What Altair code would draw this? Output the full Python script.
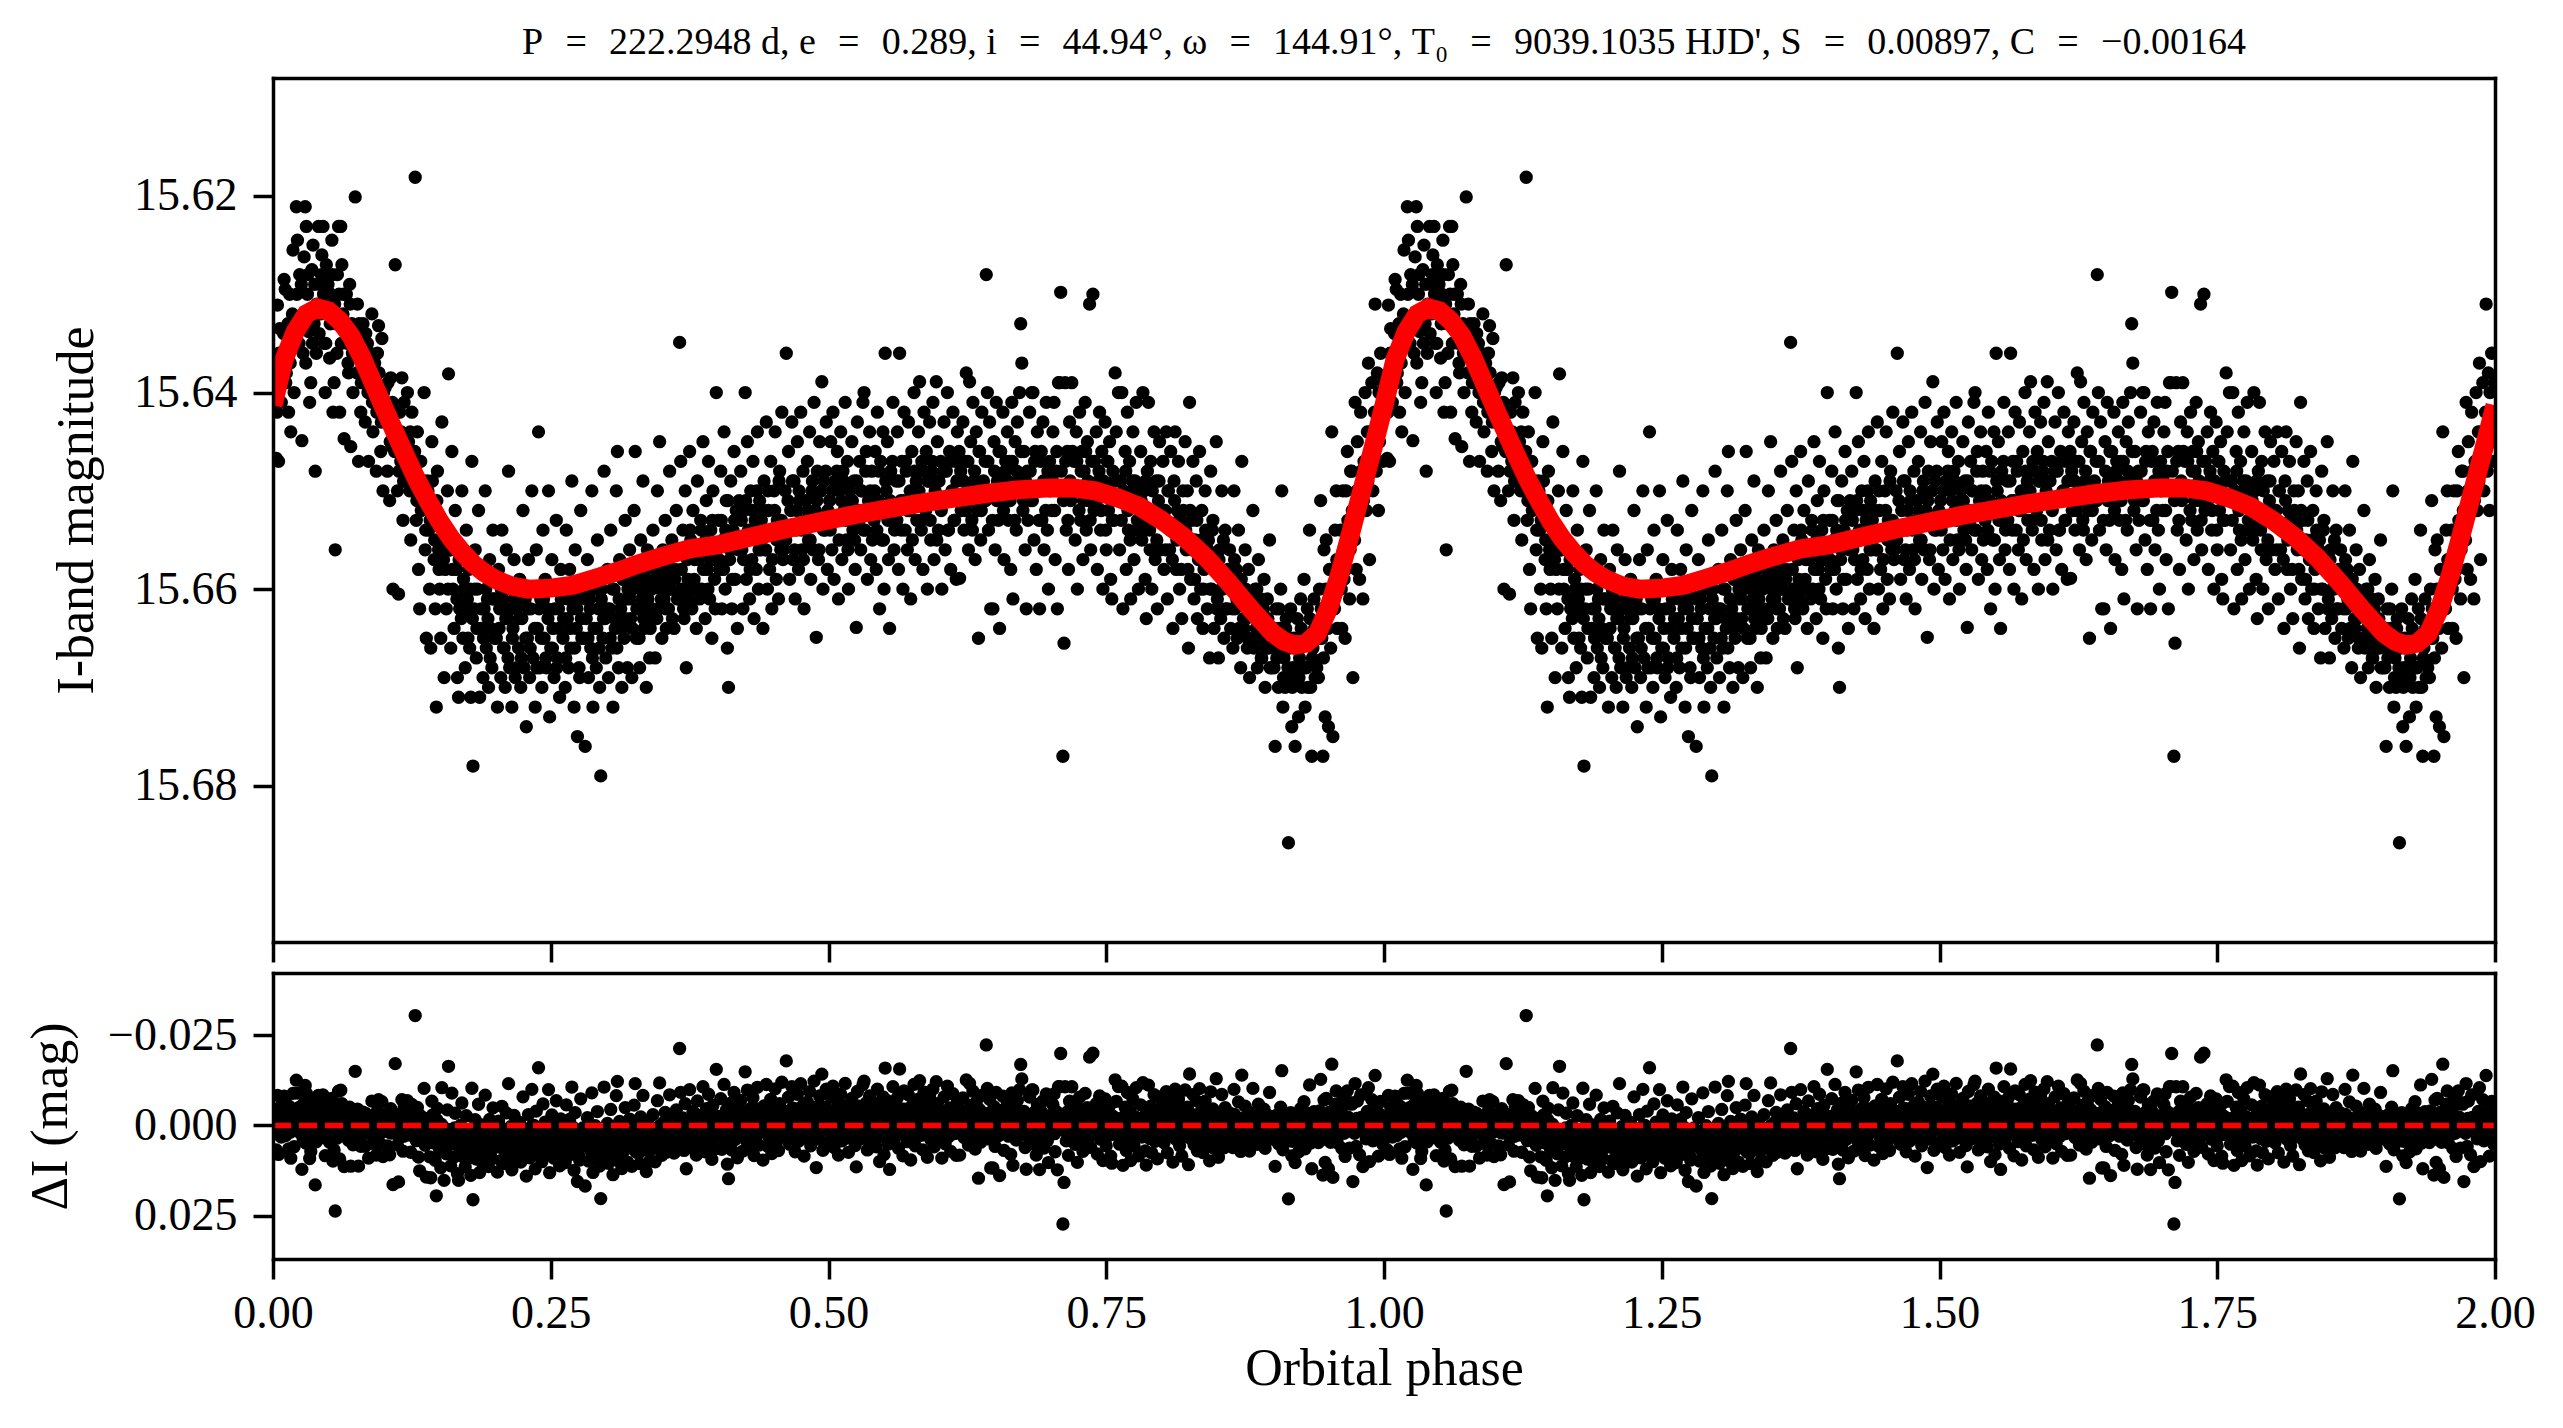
import numpy as np
import pandas as pd
import altair as alt

# ---------------- data ----------------
# red model curve, one orbital cycle (phase, I-band magnitude)
CURVE_PHASE = [0.000, 0.010, 0.020, 0.030, 0.040, 0.050, 0.060, 0.070, 0.080, 0.090,
               0.100, 0.110, 0.120, 0.130, 0.140, 0.150, 0.160, 0.170, 0.180, 0.190,
               0.200, 0.215, 0.230, 0.250, 0.270, 0.290, 0.310, 0.330, 0.350, 0.375,
               0.400, 0.430, 0.460, 0.490, 0.520, 0.550, 0.580, 0.610, 0.640, 0.670,
               0.700, 0.720, 0.740, 0.760, 0.780, 0.800, 0.820, 0.840, 0.860, 0.880,
               0.900, 0.910, 0.920, 0.930, 0.940, 0.950, 0.960, 0.970, 0.980, 0.990, 1.000]
CURVE_MAG = [15.6413, 15.6366, 15.6338, 15.6320, 15.6314, 15.6317, 15.6327, 15.6342, 15.6364, 15.6390,
             15.6416, 15.6441, 15.6466, 15.6490, 15.6511, 15.6531, 15.6548, 15.6562, 15.6574, 15.6583,
             15.6590, 15.6597, 15.6600, 15.6599, 15.6596, 15.6589, 15.6582, 15.6574, 15.6567, 15.6559,
             15.6555, 15.6547, 15.6539, 15.6532, 15.6525, 15.6519, 15.6513, 15.6508, 15.6503, 15.6499,
             15.6497, 15.6497, 15.6500, 15.6507, 15.6516, 15.6530, 15.6547, 15.6568, 15.6593, 15.6620,
             15.6645, 15.6653, 15.6657, 15.6655, 15.6645, 15.6620, 15.6585, 15.6543, 15.6500, 15.6457, 15.6413]

# observations (phase, I mag), phase 0.0 - 0.2
PTS_A = [
    (0.002, 15.6404), (0.003, 15.6467), (0.005, 15.6470), (0.004, 15.6311), (0.006, 15.6335), (0.008, 15.6360),
    (0.010, 15.6285), (0.011, 15.6295), (0.012, 15.6380), (0.014, 15.6420), (0.015, 15.6300), (0.017, 15.6345),
    (0.018, 15.6255), (0.019, 15.6400), (0.016, 15.6440), (0.007, 15.6392),
    (0.021, 15.6211), (0.029, 15.6211), (0.022, 15.6245), (0.024, 15.6280), (0.025, 15.6325), (0.026, 15.6449),
    (0.027, 15.6360), (0.028, 15.6262), (0.030, 15.6231), (0.031, 15.6300), (0.032, 15.6338), (0.034, 15.6390),
    (0.035, 15.6275), (0.036, 15.6250), (0.037, 15.6330), (0.038, 15.6480), (0.039, 15.6360), (0.033, 15.6410),
    (0.041, 15.6231), (0.042, 15.6290), (0.043, 15.6320), (0.044, 15.6260), (0.045, 15.6231), (0.046, 15.6350),
    (0.047, 15.6400), (0.048, 15.6270), (0.049, 15.6310), (0.051, 15.6365), (0.052, 15.6300), (0.053, 15.6245),
    (0.054, 15.6420), (0.055, 15.6390), (0.056, 15.6560), (0.057, 15.6330), (0.058, 15.6280), (0.059, 15.6231),
    (0.060, 15.6420),
    (0.061, 15.6231), (0.062, 15.6270), (0.063, 15.6320), (0.064, 15.6447), (0.066, 15.6300), (0.067, 15.6350),
    (0.068, 15.6380), (0.069, 15.6290), (0.070, 15.6455), (0.071, 15.6330), (0.072, 15.6400), (0.074, 15.6201),
    (0.075, 15.6340), (0.076, 15.6310), (0.077, 15.6470), (0.078, 15.6360), (0.079, 15.6420),
    (0.081, 15.6330), (0.082, 15.6390), (0.083, 15.6430), (0.085, 15.6350), (0.086, 15.6470), (0.087, 15.6400),
    (0.089, 15.6320), (0.090, 15.6440), (0.091, 15.6380), (0.093, 15.6480), (0.094, 15.6360), (0.096, 15.6420),
    (0.097, 15.6460), (0.098, 15.6345), (0.099, 15.6500), (0.095, 15.6332),
    (0.101, 15.6395), (0.102, 15.6430), (0.103, 15.6480), (0.105, 15.6510), (0.106, 15.6385), (0.107, 15.6455),
    (0.108, 15.6600), (0.110, 15.6270), (0.111, 15.6440), (0.112, 15.6500), (0.113, 15.6605), (0.114, 15.6420),
    (0.115, 15.6470), (0.116, 15.6385), (0.117, 15.6530), (0.118, 15.6410), (0.119, 15.6490),
    (0.121, 15.6400), (0.122, 15.6450), (0.123, 15.6500), (0.124, 15.6550), (0.125, 15.6420), (0.127, 15.6480),
    (0.128, 15.6181), (0.129, 15.6530), (0.130, 15.6440), (0.131, 15.6580), (0.132, 15.6620), (0.133, 15.6470),
    (0.135, 15.6510), (0.136, 15.6400), (0.137, 15.6560), (0.138, 15.6650), (0.139, 15.6490), (0.140, 15.6540),
    (0.141, 15.6600), (0.142, 15.6660), (0.143, 15.6450), (0.144, 15.6520), (0.145, 15.6570), (0.146, 15.6620),
    (0.147, 15.6720), (0.148, 15.6480), (0.149, 15.6560), (0.150, 15.6600), (0.151, 15.6650), (0.152, 15.6430),
    (0.153, 15.6540), (0.154, 15.6690), (0.155, 15.6580), (0.156, 15.6620), (0.157, 15.6500), (0.158, 15.6381),
    (0.159, 15.6560), (0.160, 15.6660),
    (0.161, 15.6460), (0.162, 15.6600), (0.163, 15.6640), (0.164, 15.6520), (0.165, 15.6580), (0.166, 15.6690),
    (0.167, 15.6710), (0.168, 15.6620), (0.169, 15.6560), (0.170, 15.6500), (0.171, 15.6650), (0.172, 15.6600),
    (0.173, 15.6680), (0.174, 15.6540), (0.175, 15.6610), (0.176, 15.6580), (0.177, 15.6660), (0.178, 15.6710),
    (0.179, 15.6470),
    (0.180, 15.6780), (0.181, 15.6620), (0.182, 15.6560), (0.183, 15.6670), (0.184, 15.6600), (0.185, 15.6520),
    (0.186, 15.6710), (0.187, 15.6640), (0.188, 15.6580), (0.189, 15.6690), (0.190, 15.6620), (0.191, 15.6500),
    (0.192, 15.6660), (0.193, 15.6610), (0.194, 15.6700), (0.195, 15.6570), (0.196, 15.6640), (0.197, 15.6680),
    (0.198, 15.6540), (0.199, 15.6610),
]

# phase 0.2 - 0.4
PTS_B = [
    (0.201, 15.6650), (0.202, 15.6720), (0.203, 15.6580), (0.204, 15.6620), (0.205, 15.6690), (0.206, 15.6540),
    (0.207, 15.6610), (0.208, 15.6660), (0.209, 15.6700), (0.210, 15.6560), (0.211, 15.6630), (0.212, 15.6480),
    (0.213, 15.6680), (0.214, 15.6600), (0.215, 15.6720), (0.216, 15.6640), (0.217, 15.6570), (0.218, 15.6690),
    (0.219, 15.6620),
    (0.221, 15.6660), (0.222, 15.6590), (0.223, 15.6700), (0.224, 15.6630), (0.225, 15.6520), (0.226, 15.6680),
    (0.227, 15.6610), (0.228, 15.6740), (0.229, 15.6650), (0.230, 15.6570), (0.231, 15.6690), (0.232, 15.6620),
    (0.233, 15.6500), (0.234, 15.6670), (0.235, 15.6600), (0.236, 15.6720), (0.237, 15.6560), (0.238, 15.6640),
    (0.239, 15.6440), (0.240, 15.6680),
    (0.241, 15.6610), (0.242, 15.6700), (0.243, 15.6540), (0.244, 15.6650), (0.245, 15.6590), (0.246, 15.6680),
    (0.247, 15.6620), (0.248, 15.6500), (0.249, 15.6730), (0.250, 15.6660), (0.251, 15.6570), (0.252, 15.6640),
    (0.253, 15.6690), (0.254, 15.6600), (0.255, 15.6530), (0.256, 15.6670), (0.257, 15.6620), (0.258, 15.6710),
    (0.259, 15.6580),
    (0.261, 15.6650), (0.262, 15.6600), (0.263, 15.6700), (0.264, 15.6540), (0.265, 15.6630), (0.266, 15.6680),
    (0.267, 15.6580), (0.268, 15.6660), (0.269, 15.6490), (0.270, 15.6620), (0.271, 15.6720), (0.272, 15.6560),
    (0.273, 15.6640), (0.274, 15.6750), (0.275, 15.6610), (0.276, 15.6690), (0.277, 15.6520), (0.278, 15.6650),
    (0.279, 15.6600),
    (0.281, 15.6760), (0.282, 15.6630), (0.283, 15.6570), (0.284, 15.6690), (0.285, 15.6610), (0.286, 15.6660),
    (0.287, 15.6500), (0.288, 15.6720), (0.289, 15.6640), (0.290, 15.6590), (0.291, 15.6680), (0.292, 15.6550),
    (0.293, 15.6620), (0.294, 15.6700), (0.295, 15.6790), (0.296, 15.6600), (0.297, 15.6650), (0.298, 15.6480),
    (0.299, 15.6630),
    (0.301, 15.6580), (0.302, 15.6690), (0.303, 15.6620), (0.304, 15.6540), (0.305, 15.6660), (0.306, 15.6720),
    (0.307, 15.6600), (0.308, 15.6640), (0.309, 15.6500), (0.310, 15.6460), (0.311, 15.6680), (0.312, 15.6570),
    (0.313, 15.6620), (0.314, 15.6700), (0.315, 15.6590), (0.316, 15.6650), (0.317, 15.6530), (0.318, 15.6610),
    (0.319, 15.6680),
    (0.321, 15.6560), (0.322, 15.6630), (0.323, 15.6690), (0.324, 15.6600), (0.325, 15.6520), (0.326, 15.6460),
    (0.327, 15.6650), (0.328, 15.6580), (0.329, 15.6620), (0.330, 15.6680), (0.331, 15.6550), (0.332, 15.6610),
    (0.333, 15.6490), (0.334, 15.6640), (0.335, 15.6590), (0.336, 15.6700), (0.337, 15.6560), (0.338, 15.6620),
    (0.339, 15.6670),
    (0.341, 15.6600), (0.342, 15.6540), (0.343, 15.6630), (0.344, 15.6670), (0.345, 15.6580), (0.346, 15.6500),
    (0.347, 15.6620), (0.348, 15.6450), (0.349, 15.6600), (0.350, 15.6650), (0.351, 15.6560), (0.352, 15.6610),
    (0.353, 15.6530), (0.354, 15.6640), (0.355, 15.6580), (0.356, 15.6620), (0.357, 15.6480), (0.358, 15.6600),
    (0.359, 15.6550),
    (0.361, 15.6640), (0.362, 15.6580), (0.363, 15.6520), (0.364, 15.6610), (0.365, 15.6560), (0.366, 15.6349),
    (0.367, 15.6470), (0.368, 15.6600), (0.369, 15.6540), (0.370, 15.6630), (0.371, 15.6500), (0.372, 15.6680),
    (0.373, 15.6570), (0.374, 15.6610), (0.375, 15.6460), (0.376, 15.6550), (0.377, 15.6620), (0.378, 15.6520),
    (0.379, 15.6590),
    (0.381, 15.6640), (0.382, 15.6490), (0.383, 15.6570), (0.384, 15.6610), (0.385, 15.6530), (0.386, 15.6600),
    (0.387, 15.6450), (0.388, 15.6560), (0.389, 15.6630), (0.390, 15.6510), (0.391, 15.6580), (0.392, 15.6470),
    (0.393, 15.6610), (0.394, 15.6540), (0.395, 15.6650), (0.396, 15.6500), (0.397, 15.6570), (0.398, 15.6620),
    (0.399, 15.6400),
]

# phase 0.4 - 0.6
PTS_C = [
    (0.401, 15.6530), (0.402, 15.6580), (0.403, 15.6480), (0.404, 15.6620), (0.405, 15.6550), (0.406, 15.6440),
    (0.407, 15.6600), (0.408, 15.6510), (0.409, 15.6660), (0.410, 15.6700), (0.411, 15.6570), (0.412, 15.6490),
    (0.413, 15.6620), (0.414, 15.6540), (0.415, 15.6460), (0.416, 15.6590), (0.417, 15.6520), (0.418, 15.6640),
    (0.419, 15.6560),
    (0.421, 15.6480), (0.422, 15.6560), (0.423, 15.6620), (0.424, 15.6520), (0.425, 15.6400), (0.426, 15.6590),
    (0.427, 15.6450), (0.428, 15.6540), (0.429, 15.6610), (0.430, 15.6500), (0.431, 15.6570), (0.432, 15.6470),
    (0.433, 15.6630), (0.434, 15.6530), (0.435, 15.6580), (0.436, 15.6440), (0.437, 15.6600), (0.438, 15.6510),
    (0.439, 15.6560),
    (0.441, 15.6640), (0.442, 15.6490), (0.443, 15.6560), (0.444, 15.6430), (0.445, 15.6600), (0.446, 15.6520),
    (0.447, 15.6580), (0.448, 15.6470), (0.449, 15.6620), (0.450, 15.6540), (0.451, 15.6500), (0.452, 15.6440),
    (0.453, 15.6590), (0.454, 15.6530), (0.455, 15.6610), (0.456, 15.6480), (0.457, 15.6560), (0.458, 15.6420),
    (0.459, 15.6570),
    (0.461, 15.6500), (0.462, 15.6360), (0.463, 15.6540), (0.464, 15.6460), (0.465, 15.6590), (0.466, 15.6520),
    (0.467, 15.6430), (0.468, 15.6570), (0.469, 15.6490), (0.470, 15.6610), (0.471, 15.6540), (0.472, 15.6450),
    (0.473, 15.6580), (0.474, 15.6510), (0.475, 15.6420), (0.476, 15.6560), (0.477, 15.6480), (0.478, 15.6620),
    (0.479, 15.6530),
    (0.481, 15.6470), (0.482, 15.6550), (0.483, 15.6440), (0.484, 15.6590), (0.485, 15.6500), (0.486, 15.6560),
    (0.487, 15.6410), (0.488, 15.6520), (0.489, 15.6649), (0.490, 15.6480), (0.491, 15.6570), (0.492, 15.6450),
    (0.493, 15.6530), (0.494, 15.6389), (0.495, 15.6600), (0.496, 15.6490), (0.497, 15.6540), (0.498, 15.6430),
    (0.499, 15.6580),
    (0.501, 15.6510), (0.502, 15.6450), (0.503, 15.6560), (0.504, 15.6420), (0.505, 15.6590), (0.506, 15.6490),
    (0.507, 15.6530), (0.508, 15.6460), (0.509, 15.6610), (0.510, 15.6500), (0.511, 15.6440), (0.512, 15.6570),
    (0.513, 15.6480), (0.514, 15.6520), (0.515, 15.6410), (0.516, 15.6550), (0.517, 15.6470), (0.518, 15.6600),
    (0.519, 15.6510),
    (0.521, 15.6450), (0.522, 15.6540), (0.523, 15.6490), (0.524, 15.6580), (0.525, 15.6639), (0.526, 15.6430),
    (0.527, 15.6520), (0.528, 15.6470), (0.529, 15.6560), (0.530, 15.6500), (0.531, 15.6410), (0.532, 15.6400),
    (0.533, 15.6540), (0.534, 15.6460), (0.535, 15.6590), (0.536, 15.6510), (0.537, 15.6440), (0.538, 15.6570),
    (0.539, 15.6480),
    (0.541, 15.6530), (0.542, 15.6460), (0.543, 15.6580), (0.544, 15.6420), (0.545, 15.6510), (0.546, 15.6620),
    (0.547, 15.6470), (0.548, 15.6550), (0.549, 15.6440), (0.550, 15.6600), (0.551, 15.6360), (0.552, 15.6500),
    (0.553, 15.6450), (0.554, 15.6570), (0.555, 15.6640), (0.556, 15.6480), (0.557, 15.6530), (0.558, 15.6410),
    (0.559, 15.6560),
    (0.561, 15.6490), (0.562, 15.6440), (0.563, 15.6580), (0.564, 15.6360), (0.565, 15.6510), (0.566, 15.6470),
    (0.567, 15.6600), (0.568, 15.6420), (0.569, 15.6540), (0.570, 15.6480), (0.571, 15.6560), (0.572, 15.6430),
    (0.573, 15.6520), (0.574, 15.6610), (0.575, 15.6460), (0.576, 15.6500), (0.577, 15.6400), (0.578, 15.6570),
    (0.579, 15.6490),
    (0.581, 15.6440), (0.582, 15.6389), (0.583, 15.6530), (0.584, 15.6470), (0.585, 15.6580), (0.586, 15.6420),
    (0.587, 15.6510), (0.588, 15.6460), (0.589, 15.6600), (0.590, 15.6490), (0.591, 15.6430), (0.592, 15.6550),
    (0.593, 15.6480), (0.594, 15.6410), (0.595, 15.6570), (0.596, 15.6500), (0.597, 15.6389), (0.598, 15.6450),
    (0.599, 15.6540),
]

# phase 0.6 - 0.8
PTS_D = [
    (0.601, 15.6470), (0.602, 15.6600), (0.603, 15.6510), (0.604, 15.6430), (0.605, 15.6560), (0.606, 15.6480),
    (0.607, 15.6400), (0.608, 15.6540), (0.609, 15.6460), (0.610, 15.6580), (0.611, 15.6500), (0.612, 15.6420),
    (0.613, 15.6530), (0.614, 15.6470), (0.615, 15.6590), (0.616, 15.6440), (0.617, 15.6510), (0.618, 15.6589),
    (0.619, 15.6480),
    (0.621, 15.6430), (0.622, 15.6540), (0.623, 15.6470), (0.624, 15.6380), (0.625, 15.6500), (0.626, 15.6560),
    (0.627, 15.6389), (0.628, 15.6450), (0.629, 15.6530), (0.630, 15.6410), (0.631, 15.6490), (0.632, 15.6570),
    (0.633, 15.6440), (0.634, 15.6520), (0.635, 15.6650), (0.636, 15.6460), (0.637, 15.6550), (0.638, 15.6420),
    (0.639, 15.6500),
    (0.641, 15.6470), (0.642, 15.6280), (0.643, 15.6400), (0.644, 15.6540), (0.645, 15.6430), (0.646, 15.6620),
    (0.647, 15.6500), (0.648, 15.6620), (0.649, 15.6450), (0.650, 15.6560), (0.651, 15.6410), (0.652, 15.6490),
    (0.653, 15.6530), (0.654, 15.6640), (0.655, 15.6460), (0.656, 15.6510), (0.657, 15.6420), (0.658, 15.6570),
    (0.659, 15.6480),
    (0.661, 15.6440), (0.662, 15.6530), (0.663, 15.6470), (0.664, 15.6580), (0.665, 15.6410), (0.666, 15.6610),
    (0.667, 15.6500), (0.668, 15.6450), (0.669, 15.6540), (0.670, 15.6430), (0.671, 15.6490), (0.672, 15.6400),
    (0.673, 15.6330), (0.674, 15.6370), (0.675, 15.6520), (0.676, 15.6460), (0.677, 15.6560), (0.678, 15.6620),
    (0.679, 15.6480),
    (0.681, 15.6420), (0.682, 15.6510), (0.683, 15.6400), (0.684, 15.6400), (0.685, 15.6550), (0.686, 15.6460),
    (0.687, 15.6580), (0.688, 15.6440), (0.689, 15.6500), (0.690, 15.6620), (0.691, 15.6470), (0.692, 15.6530),
    (0.693, 15.6430), (0.694, 15.6560), (0.695, 15.6490), (0.696, 15.6410), (0.697, 15.6540), (0.698, 15.6600),
    (0.699, 15.6470),
    (0.701, 15.6520), (0.702, 15.6440), (0.703, 15.6410), (0.704, 15.6570), (0.705, 15.6480), (0.706, 15.6620),
    (0.707, 15.6390), (0.708, 15.6390), (0.709, 15.6298), (0.710, 15.6500), (0.711, 15.6770), (0.712, 15.6655),
    (0.713, 15.6390), (0.714, 15.6540), (0.715, 15.6460), (0.716, 15.6580), (0.717, 15.6430), (0.718, 15.6510),
    (0.719, 15.6390),
    (0.721, 15.6470), (0.722, 15.6550), (0.723, 15.6440), (0.724, 15.6600), (0.725, 15.6500), (0.726, 15.6420),
    (0.727, 15.6530), (0.728, 15.6460), (0.729, 15.6570), (0.730, 15.6480), (0.731, 15.6410), (0.732, 15.6540),
    (0.733, 15.6450), (0.734, 15.6510), (0.735, 15.6310), (0.736, 15.6560), (0.737, 15.6470), (0.738, 15.6300),
    (0.739, 15.6520),
    (0.741, 15.6440), (0.742, 15.6580), (0.743, 15.6490), (0.744, 15.6420), (0.745, 15.6540), (0.746, 15.6460),
    (0.747, 15.6600), (0.748, 15.6500), (0.749, 15.6430), (0.750, 15.6560), (0.751, 15.6470), (0.752, 15.6520),
    (0.753, 15.6450), (0.754, 15.6590), (0.755, 15.6610), (0.756, 15.6480), (0.757, 15.6530), (0.758, 15.6380),
    (0.759, 15.6440),
    (0.761, 15.6400), (0.762, 15.6560), (0.763, 15.6490), (0.764, 15.6400), (0.765, 15.6620), (0.766, 15.6510),
    (0.767, 15.6460), (0.768, 15.6580), (0.769, 15.6420), (0.770, 15.6540), (0.771, 15.6470), (0.772, 15.6610),
    (0.773, 15.6500), (0.774, 15.6440), (0.775, 15.6570), (0.776, 15.6490), (0.777, 15.6410), (0.778, 15.6530),
    (0.779, 15.6600),
    (0.781, 15.6460), (0.782, 15.6550), (0.783, 15.6400), (0.784, 15.6500), (0.785, 15.6590), (0.786, 15.6630),
    (0.787, 15.6480), (0.788, 15.6410), (0.789, 15.6540), (0.790, 15.6470), (0.791, 15.6600), (0.792, 15.6520),
    (0.793, 15.6440), (0.794, 15.6570), (0.795, 15.6490), (0.796, 15.6620), (0.797, 15.6510), (0.798, 15.6450),
    (0.799, 15.6560),
]

# phase 0.8 - 1.0
PTS_E = [
    (0.801, 15.6470), (0.802, 15.6580), (0.803, 15.6520), (0.804, 15.6440), (0.805, 15.6610), (0.806, 15.6500),
    (0.807, 15.6560), (0.808, 15.6460), (0.809, 15.6540), (0.810, 15.6640), (0.811, 15.6490), (0.812, 15.6440),
    (0.813, 15.6580), (0.814, 15.6520), (0.815, 15.6470), (0.816, 15.6600), (0.817, 15.6530), (0.818, 15.6630),
    (0.819, 15.6500),
    (0.821, 15.6450), (0.822, 15.6560), (0.823, 15.6500), (0.824, 15.6660), (0.825, 15.6410), (0.826, 15.6590),
    (0.827, 15.6530), (0.828, 15.6470), (0.829, 15.6610), (0.830, 15.6550), (0.831, 15.6490), (0.832, 15.6630),
    (0.833, 15.6570), (0.834, 15.6460), (0.835, 15.6600), (0.836, 15.6520), (0.837, 15.6640), (0.838, 15.6580),
    (0.839, 15.6500),
    (0.841, 15.6620), (0.842, 15.6550), (0.843, 15.6670), (0.844, 15.6480), (0.845, 15.6600), (0.846, 15.6530),
    (0.847, 15.6640), (0.848, 15.6580), (0.849, 15.6450), (0.850, 15.6610), (0.851, 15.6670), (0.852, 15.6560),
    (0.853, 15.6630), (0.854, 15.6500), (0.855, 15.6600), (0.856, 15.6650), (0.857, 15.6540), (0.858, 15.6590),
    (0.859, 15.6620),
    (0.861, 15.6560), (0.862, 15.6640), (0.863, 15.6590), (0.864, 15.6660), (0.865, 15.6500), (0.866, 15.6620),
    (0.867, 15.6580), (0.868, 15.6650), (0.869, 15.6540), (0.870, 15.6610), (0.871, 15.6680), (0.872, 15.6470),
    (0.873, 15.6600), (0.874, 15.6640), (0.875, 15.6560), (0.876, 15.6630), (0.877, 15.6660), (0.878, 15.6580),
    (0.879, 15.6690),
    (0.881, 15.6620), (0.882, 15.6520), (0.883, 15.6660), (0.884, 15.6600), (0.885, 15.6640), (0.886, 15.6680),
    (0.887, 15.6570), (0.888, 15.6650), (0.889, 15.6610), (0.890, 15.6670), (0.891, 15.6630), (0.892, 15.6590),
    (0.893, 15.6700), (0.894, 15.6650), (0.895, 15.6610), (0.896, 15.6660), (0.897, 15.6550), (0.898, 15.6640),
    (0.899, 15.6680),
    (0.901, 15.6680), (0.902, 15.6760), (0.903, 15.6620), (0.904, 15.6660), (0.905, 15.6700), (0.906, 15.6640),
    (0.907, 15.6600), (0.908, 15.6500), (0.909, 15.6720), (0.910, 15.6670), (0.911, 15.6700), (0.912, 15.6630),
    (0.913, 15.6690), (0.914, 15.6858), (0.915, 15.6660), (0.916, 15.6620), (0.917, 15.6740), (0.918, 15.6680),
    (0.919, 15.6650),
    (0.920, 15.6760), (0.921, 15.6690), (0.922, 15.6630), (0.923, 15.6730), (0.924, 15.6670), (0.925, 15.6610),
    (0.926, 15.6700), (0.927, 15.6650), (0.928, 15.6590), (0.929, 15.6720), (0.930, 15.6680), (0.931, 15.6620),
    (0.933, 15.6540), (0.934, 15.6700), (0.935, 15.6770), (0.936, 15.6660), (0.937, 15.6610), (0.938, 15.6690),
    (0.939, 15.6640),
    (0.941, 15.6690), (0.942, 15.6600), (0.943, 15.6510), (0.944, 15.6650), (0.945, 15.6770), (0.946, 15.6560),
    (0.947, 15.6730), (0.948, 15.6550), (0.949, 15.6620), (0.950, 15.6740), (0.951, 15.6580), (0.952, 15.6660),
    (0.953, 15.6440), (0.954, 15.6750), (0.955, 15.6610), (0.956, 15.6540), (0.957, 15.6500), (0.958, 15.6640),
    (0.959, 15.6590),
    (0.961, 15.6540), (0.962, 15.6640), (0.963, 15.6500), (0.964, 15.6590), (0.965, 15.6650), (0.966, 15.6500),
    (0.967, 15.6460), (0.968, 15.6560), (0.969, 15.6610), (0.970, 15.6480), (0.971, 15.6480), (0.972, 15.6690),
    (0.973, 15.6530), (0.974, 15.6410), (0.975, 15.6580), (0.976, 15.6450), (0.977, 15.6520), (0.978, 15.6590),
    (0.979, 15.6420),
    (0.981, 15.6610), (0.982, 15.6470), (0.983, 15.6400), (0.984, 15.6520), (0.985, 15.6440), (0.986, 15.6370),
    (0.987, 15.6570), (0.988, 15.6460), (0.989, 15.6390), (0.990, 15.6500), (0.991, 15.6440), (0.992, 15.6310),
    (0.993, 15.6480), (0.994, 15.6380), (0.995, 15.6520), (0.996, 15.6450), (0.997, 15.6360), (0.998, 15.6420),
    (0.999, 15.6470),
]

# dense core of the cloud, close to the model, phase 0.0 - 0.5
PTS_F = [
    (0.0015, 15.6390), (0.0035, 15.6420), (0.0055, 15.6360), (0.0075, 15.6410), (0.0095, 15.6340),
    (0.0115, 15.6390), (0.0135, 15.6330), (0.0155, 15.6370), (0.0175, 15.6320), (0.0195, 15.6350),
    (0.0215, 15.6300), (0.0235, 15.6350), (0.0255, 15.6290), (0.0275, 15.6330), (0.0295, 15.6370),
    (0.0315, 15.6280), (0.0335, 15.6320), (0.0355, 15.6350), (0.0375, 15.6290), (0.0395, 15.6310),
    (0.0415, 15.6340), (0.0435, 15.6280), (0.0455, 15.6300), (0.0475, 15.6350), (0.0495, 15.6290),
    (0.0515, 15.6330), (0.0535, 15.6280), (0.0555, 15.6310), (0.0575, 15.6360), (0.0595, 15.6300),
    (0.0615, 15.6350), (0.0635, 15.6300), (0.0655, 15.6330), (0.0675, 15.6370), (0.0695, 15.6310),
    (0.0715, 15.6360), (0.0735, 15.6340), (0.0755, 15.6380), (0.0775, 15.6330), (0.0795, 15.6390),
    (0.0815, 15.6370), (0.0835, 15.6340), (0.0855, 15.6400), (0.0875, 15.6360), (0.0895, 15.6410),
    (0.0915, 15.6370), (0.0935, 15.6420), (0.0955, 15.6380), (0.0975, 15.6430), (0.0995, 15.6400),
    (0.1015, 15.6420), (0.1035, 15.6390), (0.1055, 15.6450), (0.1075, 15.6410), (0.1095, 15.6460),
    (0.1115, 15.6420), (0.1135, 15.6480), (0.1155, 15.6440), (0.1175, 15.6490), (0.1195, 15.6460),
    (0.1215, 15.6480), (0.1235, 15.6440), (0.1255, 15.6500), (0.1275, 15.6460), (0.1295, 15.6510),
    (0.1315, 15.6470), (0.1335, 15.6520), (0.1355, 15.6490), (0.1375, 15.6540), (0.1395, 15.6500),
    (0.1415, 15.6530), (0.1435, 15.6490), (0.1455, 15.6550), (0.1475, 15.6510), (0.1495, 15.6580),
    (0.1515, 15.6530), (0.1535, 15.6570), (0.1555, 15.6550), (0.1575, 15.6600), (0.1595, 15.6560),
    (0.1615, 15.6580), (0.1635, 15.6560), (0.1655, 15.6610), (0.1675, 15.6570), (0.1695, 15.6630),
    (0.1715, 15.6590), (0.1735, 15.6620), (0.1755, 15.6650), (0.1775, 15.6600), (0.1795, 15.6630),
    (0.1815, 15.6600), (0.1835, 15.6640), (0.1855, 15.6580), (0.1875, 15.6620), (0.1895, 15.6650),
    (0.1915, 15.6600), (0.1935, 15.6630), (0.1955, 15.6670), (0.1975, 15.6610), (0.1995, 15.6650),
    (0.2015, 15.6610), (0.2035, 15.6640), (0.2055, 15.6600), (0.2075, 15.6660), (0.2095, 15.6630),
    (0.2115, 15.6670), (0.2135, 15.6620), (0.2155, 15.6650), (0.2175, 15.6610), (0.2195, 15.6680),
    (0.2215, 15.6630), (0.2235, 15.6670), (0.2255, 15.6610), (0.2275, 15.6650), (0.2295, 15.6620),
    (0.2315, 15.6660), (0.2335, 15.6600), (0.2355, 15.6640), (0.2375, 15.6680), (0.2395, 15.6620),
    (0.2415, 15.6650), (0.2435, 15.6610), (0.2455, 15.6670), (0.2475, 15.6630), (0.2495, 15.6600),
    (0.2515, 15.6660), (0.2535, 15.6620), (0.2555, 15.6680), (0.2575, 15.6640), (0.2595, 15.6610),
    (0.2615, 15.6630), (0.2635, 15.6670), (0.2655, 15.6610), (0.2675, 15.6640), (0.2695, 15.6600),
    (0.2715, 15.6660), (0.2735, 15.6620), (0.2755, 15.6680), (0.2775, 15.6630), (0.2795, 15.6650),
    (0.2815, 15.6610), (0.2835, 15.6650), (0.2855, 15.6620), (0.2875, 15.6670), (0.2895, 15.6600),
    (0.2915, 15.6640), (0.2935, 15.6660), (0.2955, 15.6610), (0.2975, 15.6630), (0.2995, 15.6670),
    (0.3015, 15.6620), (0.3035, 15.6650), (0.3055, 15.6600), (0.3075, 15.6630), (0.3095, 15.6660),
    (0.3115, 15.6610), (0.3135, 15.6640), (0.3155, 15.6590), (0.3175, 15.6630), (0.3195, 15.6600),
    (0.3215, 15.6610), (0.3235, 15.6640), (0.3255, 15.6590), (0.3275, 15.6620), (0.3295, 15.6650),
    (0.3315, 15.6600), (0.3335, 15.6630), (0.3355, 15.6580), (0.3375, 15.6610), (0.3395, 15.6640),
    (0.3415, 15.6620), (0.3435, 15.6590), (0.3455, 15.6630), (0.3475, 15.6570), (0.3495, 15.6610),
    (0.3515, 15.6590), (0.3535, 15.6620), (0.3555, 15.6570), (0.3575, 15.6600), (0.3595, 15.6630),
    (0.3615, 15.6590), (0.3635, 15.6560), (0.3655, 15.6610), (0.3675, 15.6580), (0.3695, 15.6620),
    (0.3715, 15.6560), (0.3735, 15.6590), (0.3755, 15.6540), (0.3775, 15.6600), (0.3795, 15.6570),
    (0.3815, 15.6560), (0.3835, 15.6600), (0.3855, 15.6540), (0.3875, 15.6580), (0.3895, 15.6550),
    (0.3915, 15.6600), (0.3935, 15.6570), (0.3955, 15.6530), (0.3975, 15.6590), (0.3995, 15.6560),
    (0.4015, 15.6570), (0.4035, 15.6530), (0.4055, 15.6580), (0.4075, 15.6540), (0.4095, 15.6510),
    (0.4115, 15.6560), (0.4135, 15.6590), (0.4155, 15.6530), (0.4175, 15.6550), (0.4195, 15.6510),
    (0.4215, 15.6530), (0.4235, 15.6570), (0.4255, 15.6510), (0.4275, 15.6550), (0.4295, 15.6580),
    (0.4315, 15.6520), (0.4335, 15.6540), (0.4355, 15.6500), (0.4375, 15.6560), (0.4395, 15.6530),
    (0.4415, 15.6520), (0.4435, 15.6560), (0.4455, 15.6500), (0.4475, 15.6540), (0.4495, 15.6570),
    (0.4515, 15.6520), (0.4535, 15.6550), (0.4555, 15.6490), (0.4575, 15.6530), (0.4595, 15.6560),
    (0.4615, 15.6550), (0.4635, 15.6510), (0.4655, 15.6540), (0.4675, 15.6490), (0.4695, 15.6560),
    (0.4715, 15.6520), (0.4735, 15.6500), (0.4755, 15.6540), (0.4775, 15.6570), (0.4795, 15.6510),
    (0.4815, 15.6520), (0.4835, 15.6550), (0.4855, 15.6490), (0.4875, 15.6530), (0.4895, 15.6510),
    (0.4915, 15.6560), (0.4935, 15.6500), (0.4955, 15.6540), (0.4975, 15.6480), (0.4995, 15.6520),
]

# dense core of the cloud, close to the model, phase 0.5 - 1.0
PTS_G = [
    (0.5015, 15.6540), (0.5035, 15.6500), (0.5055, 15.6530), (0.5075, 15.6480), (0.5095, 15.6550),
    (0.5115, 15.6510), (0.5135, 15.6490), (0.5155, 15.6530), (0.5175, 15.6560), (0.5195, 15.6500),
    (0.5215, 15.6510), (0.5235, 15.6550), (0.5255, 15.6490), (0.5275, 15.6530), (0.5295, 15.6500),
    (0.5315, 15.6540), (0.5335, 15.6480), (0.5355, 15.6520), (0.5375, 15.6500), (0.5395, 15.6550),
    (0.5415, 15.6500), (0.5435, 15.6540), (0.5455, 15.6480), (0.5475, 15.6520), (0.5495, 15.6550),
    (0.5515, 15.6490), (0.5535, 15.6530), (0.5555, 15.6510), (0.5575, 15.6470), (0.5595, 15.6540),
    (0.5615, 15.6530), (0.5635, 15.6490), (0.5655, 15.6540), (0.5675, 15.6510), (0.5695, 15.6470),
    (0.5715, 15.6520), (0.5735, 15.6500), (0.5755, 15.6550), (0.5775, 15.6480), (0.5795, 15.6530),
    (0.5815, 15.6500), (0.5835, 15.6540), (0.5855, 15.6480), (0.5875, 15.6520), (0.5895, 15.6490),
    (0.5915, 15.6530), (0.5935, 15.6470), (0.5955, 15.6510), (0.5975, 15.6550), (0.5995, 15.6490),
    (0.6015, 15.6520), (0.6035, 15.6480), (0.6055, 15.6510), (0.6075, 15.6540), (0.6095, 15.6470),
    (0.6115, 15.6500), (0.6135, 15.6530), (0.6155, 15.6490), (0.6175, 15.6460), (0.6195, 15.6520),
    (0.6215, 15.6490), (0.6235, 15.6520), (0.6255, 15.6470), (0.6275, 15.6510), (0.6295, 15.6540),
    (0.6315, 15.6480), (0.6335, 15.6500), (0.6355, 15.6460), (0.6375, 15.6520), (0.6395, 15.6490),
    (0.6415, 15.6510), (0.6435, 15.6470), (0.6455, 15.6500), (0.6475, 15.6530), (0.6495, 15.6480),
    (0.6515, 15.6510), (0.6535, 15.6460), (0.6555, 15.6490), (0.6575, 15.6520), (0.6595, 15.6470),
    (0.6615, 15.6490), (0.6635, 15.6510), (0.6655, 15.6470), (0.6675, 15.6530), (0.6695, 15.6480),
    (0.6715, 15.6500), (0.6735, 15.6460), (0.6755, 15.6510), (0.6775, 15.6490), (0.6795, 15.6530),
    (0.6815, 15.6480), (0.6835, 15.6510), (0.6855, 15.6470), (0.6875, 15.6500), (0.6895, 15.6530),
    (0.6915, 15.6460), (0.6935, 15.6490), (0.6955, 15.6520), (0.6975, 15.6480), (0.6995, 15.6500),
    (0.7015, 15.6490), (0.7035, 15.6520), (0.7055, 15.6460), (0.7075, 15.6500), (0.7095, 15.6480),
    (0.7115, 15.6510), (0.7135, 15.6470), (0.7155, 15.6530), (0.7175, 15.6490), (0.7195, 15.6460),
    (0.7215, 15.6500), (0.7235, 15.6470), (0.7255, 15.6520), (0.7275, 15.6480), (0.7295, 15.6510),
    (0.7315, 15.6460), (0.7335, 15.6490), (0.7355, 15.6530), (0.7375, 15.6500), (0.7395, 15.6470),
    (0.7415, 15.6510), (0.7435, 15.6480), (0.7455, 15.6520), (0.7475, 15.6490), (0.7495, 15.6540),
    (0.7515, 15.6470), (0.7535, 15.6500), (0.7555, 15.6530), (0.7575, 15.6490), (0.7595, 15.6510),
    (0.7615, 15.6490), (0.7635, 15.6530), (0.7655, 15.6500), (0.7675, 15.6480), (0.7695, 15.6520),
    (0.7715, 15.6550), (0.7735, 15.6490), (0.7755, 15.6510), (0.7775, 15.6540), (0.7795, 15.6500),
    (0.7815, 15.6510), (0.7835, 15.6540), (0.7855, 15.6490), (0.7875, 15.6530), (0.7895, 15.6560),
    (0.7915, 15.6500), (0.7935, 15.6520), (0.7955, 15.6550), (0.7975, 15.6490), (0.7995, 15.6530),
    (0.8015, 15.6520), (0.8035, 15.6560), (0.8055, 15.6500), (0.8075, 15.6540), (0.8095, 15.6570),
    (0.8115, 15.6510), (0.8135, 15.6550), (0.8155, 15.6530), (0.8175, 15.6580), (0.8195, 15.6520),
    (0.8215, 15.6540), (0.8235, 15.6580), (0.8255, 15.6520), (0.8275, 15.6560), (0.8295, 15.6590),
    (0.8315, 15.6530), (0.8335, 15.6570), (0.8355, 15.6550), (0.8375, 15.6600), (0.8395, 15.6540),
    (0.8415, 15.6560), (0.8435, 15.6600), (0.8455, 15.6540), (0.8475, 15.6580), (0.8495, 15.6620),
    (0.8515, 15.6570), (0.8535, 15.6600), (0.8555, 15.6550), (0.8575, 15.6620), (0.8595, 15.6580),
    (0.8615, 15.6590), (0.8635, 15.6620), (0.8655, 15.6570), (0.8675, 15.6610), (0.8695, 15.6640),
    (0.8715, 15.6590), (0.8735, 15.6630), (0.8755, 15.6600), (0.8775, 15.6650), (0.8795, 15.6610),
    (0.8815, 15.6610), (0.8835, 15.6650), (0.8855, 15.6600), (0.8875, 15.6640), (0.8895, 15.6670),
    (0.8915, 15.6620), (0.8935, 15.6660), (0.8955, 15.6630), (0.8975, 15.6680), (0.8995, 15.6640),
    (0.9015, 15.6640), (0.9035, 15.6670), (0.9055, 15.6620), (0.9075, 15.6660), (0.9095, 15.6690),
    (0.9115, 15.6640), (0.9135, 15.6680), (0.9155, 15.6650), (0.9175, 15.6700), (0.9195, 15.6660),
    (0.9215, 15.6660), (0.9235, 15.6690), (0.9255, 15.6640), (0.9275, 15.6680), (0.9295, 15.6650),
    (0.9315, 15.6700), (0.9335, 15.6630), (0.9355, 15.6670), (0.9375, 15.6640), (0.9395, 15.6680),
    (0.9415, 15.6650), (0.9435, 15.6620), (0.9455, 15.6670), (0.9475, 15.6600), (0.9495, 15.6640),
    (0.9515, 15.6610), (0.9535, 15.6580), (0.9555, 15.6620), (0.9575, 15.6570), (0.9595, 15.6600),
    (0.9615, 15.6600), (0.9635, 15.6560), (0.9655, 15.6580), (0.9675, 15.6530), (0.9695, 15.6560),
    (0.9715, 15.6520), (0.9735, 15.6550), (0.9755, 15.6500), (0.9775, 15.6520), (0.9795, 15.6480),
    (0.9815, 15.6510), (0.9835, 15.6470), (0.9855, 15.6490), (0.9875, 15.6440), (0.9895, 15.6470),
    (0.9915, 15.6420), (0.9935, 15.6450), (0.9955, 15.6400), (0.9975, 15.6430), (0.9995, 15.6390),
]

SP = "\u2002\u200a"   # wide math-style spacing around '='
TITLE = (f"P{SP}={SP}222.2948 d, e{SP}={SP}0.289, i{SP}={SP}44.94°, ω{SP}={SP}144.91°, "
         f"T₀{SP}={SP}9039.1035 HJD', S{SP}={SP}0.00897, C{SP}={SP}−0.00164")
X_TICKS = [0.0, 0.25, 0.5, 0.75, 1.0, 1.25, 1.5, 1.75, 2.0]
MAG_TICKS = [15.62, 15.64, 15.66, 15.68]
RES_TICKS = [-0.025, 0.0, 0.025]

# ---------------- tables ----------------
one = pd.DataFrame(PTS_A + PTS_B + PTS_C + PTS_D + PTS_E + PTS_F + PTS_G, columns=["phase", "mag"])
one["resid"] = one["mag"] - np.interp(one["phase"], CURVE_PHASE, CURVE_MAG)
two = one.copy()
two["phase"] = two["phase"] + 1.0
pts = pd.concat([one, two], ignore_index=True)

curve = pd.DataFrame({
    "phase": CURVE_PHASE + [p + 1.0 for p in CURVE_PHASE[1:]],
    "mag": CURVE_MAG + CURVE_MAG[1:],
})
zero = pd.DataFrame({"x0": [0.0], "x1": [2.0], "y0": [0.0]})

# ---------------- layout ----------------
W, H = 2222, 1181
TOP_RANGE = [0, 864]
BOT_RANGE = [895, 1181]
MAG_DOMAIN = [15.6080, 15.6959]
RES_DOMAIN = [-0.0422, 0.0370]
FONT = "Liberation Serif"
LW = 3.5
DOT = 177


def xs():
    return alt.Scale(domain=[0, 2], nice=False, zero=False)


def ys_top():
    return alt.Scale(domain=MAG_DOMAIN, range=TOP_RANGE, nice=False, zero=False)


def ys_bot():
    return alt.Scale(domain=RES_DOMAIN, range=BOT_RANGE, nice=False, zero=False)


frame = dict(ticks=False, labels=False, title=None, zindex=1, domainColor="black",
             domainWidth=LW, domainCap="square", grid=False)
tick_ax = dict(zindex=1, domainColor="black", domainWidth=LW, domainCap="square", grid=False,
               tickColor="black", tickWidth=LW, tickSize=20)

top_pts = alt.Chart(pts).mark_circle(size=DOT, color="black", opacity=1, clip=True).encode(
    x=alt.X("phase:Q", scale=xs(),
            axis=alt.Axis(orient="bottom", offset=-(H - TOP_RANGE[1]), values=X_TICKS,
                          labels=False, title=None, **tick_ax)),
    y=alt.Y("mag:Q", scale=ys_top(),
            axis=alt.Axis(orient="left", values=MAG_TICKS, format=".2f", labelPadding=16,
                          title="I-band magnitude", titleX=-181, titleBaseline="alphabetic",
                          **tick_ax)),
)

top_curve = alt.Chart(curve).mark_line(color="#ff0000", strokeWidth=19, clip=True).encode(
    x=alt.X("phase:Q", scale=xs(), axis=alt.Axis(orient="top", **frame)),
    y=alt.Y("mag:Q", scale=ys_top(), axis=alt.Axis(orient="right", **frame)),
)

bot_pts = alt.Chart(pts).mark_circle(size=DOT, color="black", opacity=1, clip=True).encode(
    x=alt.X("phase:Q", scale=xs(),
            axis=alt.Axis(orient="bottom", values=X_TICKS, format=".2f", labelPadding=12,
                          title="Orbital phase", titleY=125, titleBaseline="alphabetic",
                          **tick_ax)),
    y=alt.Y("resid:Q", scale=ys_bot(),
            axis=alt.Axis(orient="left", values=RES_TICKS, format=".3f", labelPadding=16,
                          title="ΔI (mag)", titleX=-207, titleBaseline="alphabetic",
                          **tick_ax)),
)

bot_rule = alt.Chart(zero).mark_rule(color="#ff0000", strokeWidth=5.5, strokeDash=[18, 8]).encode(
    x=alt.X("x0:Q", scale=xs(), axis=alt.Axis(orient="top", offset=-BOT_RANGE[0], **frame)),
    x2="x1:Q",
    y=alt.Y("y0:Q", scale=ys_bot(), axis=alt.Axis(orient="right", **frame)),
)

chart = (
    alt.layer(top_pts, top_curve, bot_pts, bot_rule)
    .resolve_scale(x="independent", y="independent")
    .properties(
        width=W, height=H,
        title=alt.TitleParams(TITLE, font=FONT, fontSize=38, fontWeight="normal", color="black",
                              anchor="middle", baseline="alphabetic", offset=21, dy=35),
        autosize=alt.AutoSizeParams(type="none"),
        padding={"left": 265, "top": 70, "right": 60, "bottom": 160},
        background="white",
    )
    .configure_view(stroke="transparent")
    .configure_axis(labelFont=FONT, labelFontSize=46, labelColor="black", labelFlush=False,
                    labelOverlap=False, titleFont=FONT, titleFontSize=52,
                    titleFontWeight="normal", titleColor="black")
)

chart.save("out.html", embed_options={"renderer": "svg", "actions": False})
